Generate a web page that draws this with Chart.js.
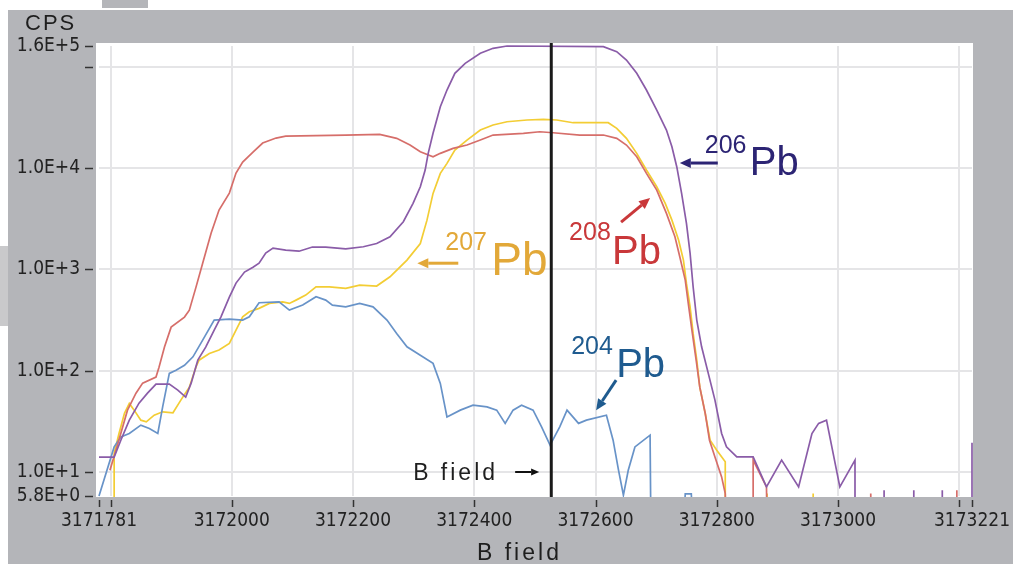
<!DOCTYPE html>
<html>
<head>
<meta charset="utf-8">
<script src="https://cdn.jsdelivr.net/npm/chart.js@4.4.1/dist/chart.umd.min.js"></script>
<style>
  html, body { margin: 0; padding: 0; background: #fff; }
  canvas { display: block; }
</style>
</head>
<body>
<canvas id="peakChart" width="1013" height="564"></canvas>
<script>
// peak scan: counts per second vs magnet B field, log scale
// a value of 1 means "below the axis" (no counts), it gets clipped under the plot

const fieldMin = 3171781;
const fieldMax = 3173221;
const cpsMin = 5.8;
const cpsMax = 160000;
const bFieldSetting = 3172527;

const xTickValues = [3171781, 3171800, 3172000, 3172200, 3172400, 3172600, 3172800, 3173000, 3173200, 3173221];
const xTickLabels = ['3171781', '', '3172000', '3172200', '3172400', '3172600', '3172800', '3173000', '', '3173221'];
const yTickValues = [5.8, 10, 100, 1000, 10000, 100000, 160000];
const yTickLabels = ['5.8E+0', '1.0E+1', '1.0E+2', '1.0E+3', '1.0E+4', '', '1.6E+5'];

// 206Pb
const pb206Field = [
  3171781, 3171806, 3171817, 3171831, 3171847, 3171861, 3171875, 3171897, 3171911, 3171924,
  3171933, 3171944, 3171957, 3171971, 3171982, 3171996, 3172007, 3172021, 3172035, 3172045,
  3172056, 3172068, 3172089, 3172111, 3172133, 3172155, 3172188, 3172217, 3172239, 3172261,
  3172283, 3172299, 3172311, 3172319, 3172324, 3172332, 3172344, 3172355, 3172368, 3172385,
  3172410, 3172431, 3172454, 3172613, 3172635, 3172651, 3172668, 3172684, 3172701, 3172717,
  3172726, 3172734, 3172742, 3172750, 3172756, 3172761, 3172767, 3172775, 3172786, 3172797,
  3172808, 3172816, 3172833, 3172860, 3172882, 3172907, 3172935, 3172957, 3172968, 3172981,
  3173003, 3173028, 3173028, 3173076, 3173076, 3173076, 3173125, 3173125, 3173125, 3173172,
  3173172, 3173172, 3173221, 3173221
];
const pb206Cps = [
  14, 14, 20.6, 32.5, 47.8, 60, 73.7, 73.7, 64.3, 54.8,
  75.4, 127, 171, 252, 338, 532, 732, 940, 1050, 1150,
  1450, 1620, 1550, 1510, 1660, 1660, 1590, 1670, 1800, 2100,
  2950, 4480, 6530, 9550, 13960, 22000, 40300, 58850, 86000, 108000,
  135500, 151900, 160000, 157500, 140500, 116400, 86000, 58850, 37360, 23700,
  16200, 10300, 5620, 2840, 1440, 673, 316, 172, 94, 51.2,
  24, 17.7, 14.1, 14.1, 7.14, 13.1, 7.14, 24, 30.2, 32.5,
  7.14, 13.1, 1, 1, 6.6, 1, 1, 6.6, 1, 1,
  6.6, 1, 1, 19.4
];

// 208Pb
const pb208Field = [
  3171799, 3171809, 3171828, 3171842, 3171853, 3171875, 3171880, 3171889, 3171900, 3171922,
  3171930, 3171941, 3171952, 3171966, 3171979, 3171996, 3172007, 3172018, 3172035, 3172051,
  3172073, 3172089, 3172188, 3172244, 3172272, 3172294, 3172311, 3172332, 3172344, 3172365,
  3172388, 3172410, 3172431, 3172481, 3172508, 3172530, 3172574, 3172613, 3172635, 3172651,
  3172668, 3172684, 3172701, 3172717, 3172731, 3172739, 3172748, 3172753, 3172759, 3172766,
  3172772, 3172781, 3172788, 3172797, 3172808, 3172814, 3172817, 3172860, 3172860, 3172882,
  3172884, 3173054, 3173054, 3173054, 3173196, 3173196, 3173196
];
const pb208Cps = [
  10.4, 16.4, 40.8, 60, 75.4, 86.4, 108, 171, 269, 338,
  396, 668, 1150, 2280, 3850, 5660, 8920, 11450, 14380, 17640,
  19760, 20680, 21160, 21500, 19630, 16860, 14480, 12920, 13960, 15640,
  16860, 18880, 21160, 22000, 22810, 22300, 21160, 21160, 19630, 16860,
  12920, 8860, 6060, 3570, 2100, 1330, 784, 461, 252, 127,
  68.7, 37.8, 20.6, 14.1, 8.96, 6.14, 1, 1, 13.1, 7.14,
  1, 1, 6.14, 1, 1, 6.6, 1
];

// 207Pb
const pb207Field = [
  3171806, 3171806, 3171814, 3171823, 3171831, 3171839, 3171850, 3171859, 3171872, 3171886,
  3171903, 3171916, 3171930, 3171941, 3171946, 3171963, 3171979, 3171996, 3172007, 3172018,
  3172029, 3172045, 3172062, 3172084, 3172095, 3172106, 3172122, 3172139, 3172161, 3172188,
  3172211, 3172239, 3172261, 3172289, 3172311, 3172322, 3172332, 3172344, 3172355, 3172368,
  3172388, 3172410, 3172431, 3172454, 3172487, 3172514, 3172536, 3172563, 3172621, 3172635,
  3172651, 3172668, 3172684, 3172701, 3172715, 3172726, 3172737, 3172745, 3172750, 3172756,
  3172761, 3172767, 3172772, 3172781, 3172789, 3172800, 3172814, 3172814, 3172883, 3172883,
  3172883, 3172959, 3172959, 3172959
];
const pb207Cps = [
  1, 15.3, 24, 37.9, 47.5, 40.8, 32.5, 31.3, 36.4, 39.3,
  38.4, 51.2, 68.7, 109, 127, 148, 160, 186, 252, 340,
  381, 412, 461, 478, 461, 497, 557, 673, 673, 649,
  699, 684, 845, 1235, 1800, 3060, 5620, 8860, 11120, 15040,
  18880, 23700, 26560, 28630, 29760, 30240, 29760, 27990, 27990, 24640,
  19630, 13960, 9550, 6530, 4480, 3060, 1945, 1235, 727, 427,
  233, 127, 68.7, 37.8, 20.6, 16.4, 12.6, 1, 1, 6.14,
  1, 1, 6.14, 1
];

// 204Pb
const pb204Field = [
  3171781, 3171806, 3171817, 3171831, 3171850, 3171864, 3171878, 3171886, 3171897, 3171908,
  3171922, 3171936, 3171952, 3171971, 3171996, 3172018, 3172029, 3172045, 3172078, 3172095,
  3172117, 3172139, 3172155, 3172166, 3172188, 3172211, 3172233, 3172256, 3172272, 3172289,
  3172311, 3172332, 3172344, 3172355, 3172377, 3172398, 3172421, 3172437, 3172451, 3172464,
  3172478, 3172497, 3172511, 3172525, 3172541, 3172553, 3172572, 3172585, 3172618, 3172629,
  3172638, 3172646, 3172654, 3172665, 3172690, 3172692, 3172741, 3172748, 3172758, 3172764
];
const pb204Cps = [
  5.8, 17.7, 22.2, 24, 29, 26.9, 24, 44, 94, 101,
  113, 137, 200, 316, 323, 316, 340, 468, 478, 396,
  444, 536, 497, 444, 427, 461, 427, 316, 233, 172,
  142, 118, 74.9, 35, 40.8, 45.7, 44, 40.8, 30.2, 40.8,
  45.7, 40.8, 27.9, 18.4, 27.9, 40.8, 30.2, 32.5, 36.4, 20.6,
  10.4, 5.91, 10.4, 17.7, 23.1, 1, 1, 6.1, 6.1, 1
];

// labels pinned to a point of the plot (field, cps), offsets in px from that point
const isotopeNotes = [
  { mass: '206', color: '#2c2474', at: [3172739, 11200], tail: [38, 0], sup: [25, -10], main: [70, 12], size: 40 },
  { mass: '207', color: '#e2a838', at: [3172306, 1150], tail: [41, 0], sup: [28, -13], main: [74, 12], size: 46 },
  { mass: '208', color: '#c9383a', at: [3172690, 5050], tail: [-29, 24], sup: [-81, 42], main: [-38, 66], size: 40 },
  { mass: '204', color: '#1f5b8f', at: [3172601, 40.8], tail: [20, -30], sup: [-25, -56], main: [20, -33], size: 40 }
];
const bFieldNote = { at: [3172507, 10], tail: [-24, 0], text: [-126, 8] };

const GRAY = '#b4b5b9';
const LABEL_FONT = "'Liberation Sans', Arial, sans-serif";
const TICK_FONT = "'DejaVu Sans Condensed', 'DejaVu Sans', sans-serif";

function toPoints(xs, ys) {
  return xs.map((x, i) => ({ x: x, y: ys[i] }));
}

function lineSet(label, xs, ys, color) {
  return {
    label: label,
    data: toPoints(xs, ys),
    borderColor: color,
    borderWidth: 1.7,
    pointRadius: 0,
    tension: 0,
    fill: false,
    clip: { left: 1, right: 3, top: 1, bottom: 1 }
  };
}

function drawArrow(ctx, x1, y1, x2, y2, color, shaft, headLen, headHalf) {
  const ang = Math.atan2(y2 - y1, x2 - x1);
  const bx = x2 - Math.cos(ang) * headLen;
  const by = y2 - Math.sin(ang) * headLen;
  ctx.save();
  ctx.strokeStyle = color;
  ctx.fillStyle = color;
  ctx.lineWidth = shaft;
  ctx.beginPath();
  ctx.moveTo(x1, y1);
  ctx.lineTo(bx, by);
  ctx.stroke();
  ctx.beginPath();
  ctx.moveTo(x2, y2);
  ctx.lineTo(bx + Math.sin(ang) * headHalf, by - Math.cos(ang) * headHalf);
  ctx.lineTo(bx - Math.sin(ang) * headHalf, by + Math.cos(ang) * headHalf);
  ctx.closePath();
  ctx.fill();
  ctx.restore();
}

const framePlugin = {
  id: 'frame',
  beforeDraw(chart) {
    const ctx = chart.ctx;
    const a = chart.chartArea;
    ctx.save();
    ctx.fillStyle = '#ffffff';
    ctx.fillRect(0, 0, chart.width, chart.height);
    ctx.fillStyle = GRAY;
    ctx.fillRect(8, 10, chart.width - 8, chart.height - 10);
    ctx.fillRect(102, 0, 46, 8);
    ctx.fillStyle = '#c9c9cb';
    ctx.fillRect(0, 246, 8, 80);
    ctx.fillStyle = '#ffffff';
    ctx.fillRect(a.left - 3, a.top - 3, a.right - a.left + 4, a.bottom - a.top + 4);
    ctx.restore();
  },
  afterDraw(chart) {
    const ctx = chart.ctx;
    const a = chart.chartArea;
    const xs = chart.scales.x;
    const ys = chart.scales.y;
    ctx.save();

    // small tick dashes, set off from the plot edge
    ctx.strokeStyle = '#333333';
    ctx.lineWidth = 1.5;
    xs.ticks.forEach(t => {
      const px = Math.round(xs.getPixelForValue(t.value)) + 0.5;
      ctx.beginPath();
      ctx.moveTo(px, a.bottom + 4);
      ctx.lineTo(px, a.bottom + 11);
      ctx.stroke();
    });
    ys.ticks.forEach(t => {
      const py = Math.round(ys.getPixelForValue(t.value)) + 0.5;
      ctx.beginPath();
      ctx.moveTo(a.left - 14, py);
      ctx.lineTo(a.left - 6, py);
      ctx.stroke();
    });

    // axis names
    ctx.fillStyle = '#1e1e1e';
    ctx.textBaseline = 'alphabetic';
    ctx.font = '22px ' + LABEL_FONT;
    ctx.letterSpacing = '2px';
    ctx.fillText('CPS', 25, 30);
    ctx.font = '23px ' + LABEL_FONT;
    ctx.letterSpacing = '3px';
    ctx.fillText('B field', 477, 560);

    // B field marker note
    const bx = xs.getPixelForValue(bFieldNote.at[0]);
    const by = ys.getPixelForValue(bFieldNote.at[1]);
    ctx.fillText('B field', bx + bFieldNote.text[0], by + bFieldNote.text[1]);
    ctx.letterSpacing = '0px';
    drawArrow(ctx, bx + bFieldNote.tail[0], by + bFieldNote.tail[1], bx, by, '#111', 2, 8, 3.5);

    // isotope labels
    isotopeNotes.forEach(n => {
      const px = xs.getPixelForValue(n.at[0]);
      const py = ys.getPixelForValue(n.at[1]);
      drawArrow(ctx, px + n.tail[0], py + n.tail[1], px, py, n.color, 3, 11, 5);
      ctx.fillStyle = n.color;
      ctx.font = '25px ' + LABEL_FONT;
      ctx.fillText(n.mass, px + n.sup[0], py + n.sup[1]);
      ctx.font = n.size + 'px ' + LABEL_FONT;
      ctx.fillText('Pb', px + n.main[0], py + n.main[1]);
    });
    ctx.restore();
  }
};

const bFieldLine = {
  label: 'B field',
  data: [{ x: bFieldSetting, y: 1 }, { x: bFieldSetting, y: 1e6 }],
  borderColor: '#1a1a1a',
  borderWidth: 3,
  pointRadius: 0,
  clip: { left: 2, right: 2, top: 3, bottom: 1 }
};

const ctx = document.getElementById('peakChart').getContext('2d');

new Chart(ctx, {
  type: 'line',
  data: {
    // first dataset is drawn on top
    datasets: [
      bFieldLine,
      lineSet('206Pb', pb206Field, pb206Cps, '#8a5ca8'),
      lineSet('208Pb', pb208Field, pb208Cps, '#d66e6a'),
      lineSet('204Pb', pb204Field, pb204Cps, '#6893c8'),
      lineSet('207Pb', pb207Field, pb207Cps, '#f3cd34')
    ]
  },
  options: {
    responsive: false,
    animation: false,
    events: [],
    layout: { padding: { left: 0, top: 46, right: 41, bottom: 0 } },
    plugins: {
      legend: { display: false },
      tooltip: { enabled: false }
    },
    scales: {
      x: {
        type: 'linear',
        min: fieldMin,
        max: fieldMax,
        afterBuildTicks: s => { s.ticks = xTickValues.map(v => ({ value: v })); },
        afterFit: s => { s.height = 68; s.paddingLeft = 0; s.paddingRight = 0; },
        border: { display: false },
        grid: {
          drawTicks: false,
          lineWidth: 2,
          color: c => (c.tick && (c.tick.value === fieldMin || c.tick.value === fieldMax)) ? 'rgba(0,0,0,0)' : '#e5e5e7'
        },
        ticks: {
          autoSkip: false,
          maxRotation: 0,
          minRotation: 0,
          padding: 14,
          color: '#222222',
          font: { family: TICK_FONT, size: 19 },
          callback: (v, i) => xTickLabels[i]
        }
      },
      y: {
        type: 'logarithmic',
        min: cpsMin,
        max: cpsMax,
        afterBuildTicks: s => { s.ticks = yTickValues.map(v => ({ value: v })); },
        afterFit: s => { s.width = 99; s.paddingTop = 0; s.paddingBottom = 0; },
        border: { display: false },
        grid: {
          drawTicks: false,
          lineWidth: 2,
          color: c => (c.tick && (c.tick.value === cpsMin || c.tick.value === cpsMax)) ? 'rgba(0,0,0,0)' : '#e5e5e7'
        },
        ticks: {
          autoSkip: false,
          padding: 19,
          color: '#222222',
          font: { family: TICK_FONT, size: 19 },
          callback: (v, i) => yTickLabels[i]
        }
      }
    }
  },
  plugins: [framePlugin]
});
</script>
</body>
</html>
